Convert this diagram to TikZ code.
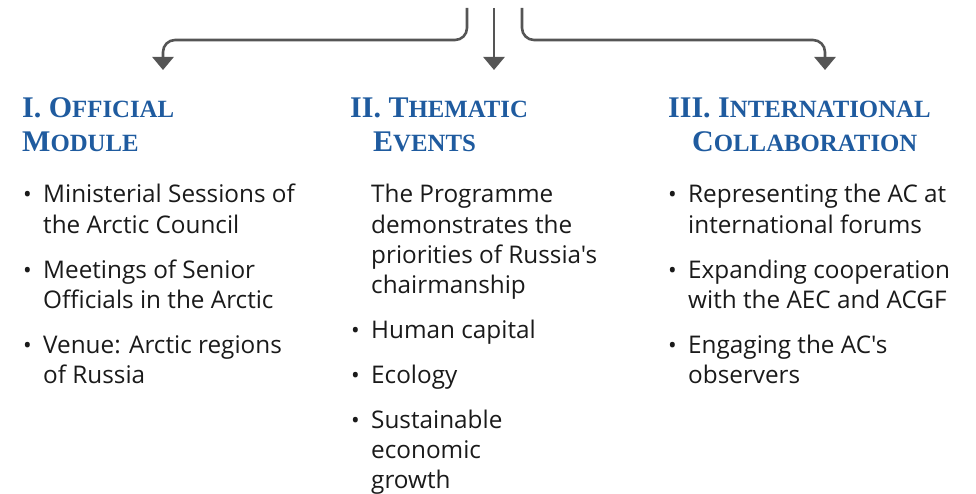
\documentclass[tikz,border=0pt]{standalone}
\usepackage{fontspec}
\setmainfont{Open Sans}[Ligatures=TeXOff]
\newfontfamily\headfont{Liberation Serif}[BoldFont=* Bold]
\usetikzlibrary{arrows.meta}
\definecolor{headblue}{HTML}{1F5B9F}
\definecolor{conngray}{HTML}{555555}
\definecolor{bodytext}{HTML}{1A1A1A}
\newcommand\hdbig[1]{{\fontsize{30}{34}\selectfont #1}}
\newcommand\hdsmall[1]{{\fontsize{24.8}{34}\selectfont #1}}
\newcommand\mlines[1]{\begin{tabular}[t]{@{}l@{}}#1\end{tabular}}
\tikzset{
  conn/.style={draw=conngray, line width=2.6pt, rounded corners=12pt,
    -{Triangle[width=21pt,length=13pt]}},
  head/.style={anchor=base west, inner sep=0pt, text=headblue, font=\headfont\bfseries},
  body/.style={anchor=base west, inner sep=0pt, text=bodytext,
    font=\fontsize{24.3}{30.1}\selectfont},
  bul/.style={anchor=base west, inner sep=0pt, text=bodytext, font=\fontsize{23}{30.1}\selectfont}
}
\begin{document}
\begin{tikzpicture}[x=1pt,y=-1pt]
\useasboundingbox (0,0) rectangle (976,494);

% connector coordinates
\coordinate (s1) at (467,8);
\coordinate (s2) at (494,8);
\coordinate (s3) at (522,8);
\coordinate (e1) at (163,70);
\coordinate (e2) at (494,70);
\coordinate (e3) at (825,70);

\draw[conn] (s1) -- (s1 |- 0,40) -- (e1 |- 0,40) -- (e1);
\draw[conn] (s2) -- (e2);
\draw[conn] (s3) -- (s3 |- 0,40) -- (e3 |- 0,40) -- (e3);

% headings
\node[head] (h1a) at (22,118) {\hdbig{I. O}\hdsmall{FFICIAL}};
\node[head] (h1b) at (22,152) {\hdbig{M}\hdsmall{ODULE}};
\node[head] (h2a) at (350,118) {\hdbig{II. T}\hdsmall{HEMATIC}};
\node[head] (h2b) at (373,152) {\hdbig{E}\hdsmall{VENTS}};
\node[head] (h3a) at (668,118) {\hdbig{III. I}\hdsmall{NTERNATIONAL}};
\node[head] (h3b) at (692,152) {\hdbig{C}\hdsmall{OLLABORATION}};

% column 1
\node[bul] (b11) at (23,203) {•};
\node[body] (t11) at (43,203) {\mlines{Ministerial Sessions of\\the Arctic Council}};
\node[bul] (b12) at (23,278) {•};
\node[body] (t12) at (43,278) {\mlines{Meetings of Senior\\Officials in the Arctic}};
\node[bul] (b13) at (23,353) {•};
\node[body] (t13) at (43,353) {\mlines{Venue: Arctic regions\\of Russia}};

% column 2
\node[body] (t20) at (371,203) {\mlines{The Programme\\demonstrates the\\priorities of Russia's\\chairmanship}};
\node[bul] (b21) at (351,338) {•};
\node[body] (t21) at (371,338) {Human capital};
\node[bul] (b22) at (351,383) {•};
\node[body] (t22) at (371,383) {Ecology};
\node[bul] (b23) at (351,428) {•};
\node[body] (t23) at (371,428) {\mlines{Sustainable\\economic\\growth}};

% column 3
\node[bul] (b31) at (668,203) {•};
\node[body] (t31) at (688,203) {\mlines{Representing the AC at\\international forums}};
\node[bul] (b32) at (668,278) {•};
\node[body] (t32) at (688,278) {\mlines{Expanding cooperation\\with the AEC and ACGF}};
\node[bul] (b33) at (668,353) {•};
\node[body] (t33) at (688,353) {\mlines{Engaging the AC's\\observers}};
\end{tikzpicture}
\end{document}
